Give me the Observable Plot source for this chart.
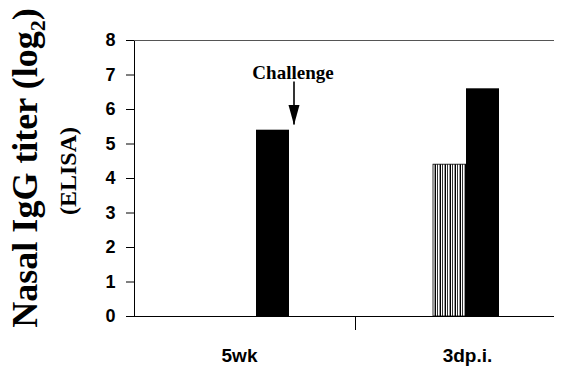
<!DOCTYPE html>
<html><head><meta charset="utf-8">
<script src="https://cdn.jsdelivr.net/npm/d3@7"></script>
<script src="https://cdn.jsdelivr.net/npm/@observablehq/plot@0.6"></script>
<style>
body{margin:0;background:#fff}
svg [aria-label="y-axis tick label"]{font-size:18px;font-weight:bold;font-family:"Liberation Sans",Arial,sans-serif}
</style>
</head><body><div id="chart"></div>
<script>
const periods = ["5wk", "3dp.i."];
const series = ["Group A", "Group B", "Group C"];
const valuesA = [0, 0];
const valuesB = [0, 4.4];
const valuesC = [5.4, 6.6];
const yTicks = [0, 1, 2, 3, 4, 5, 6, 7, 8];
const annotation = [{period: "5wk", series: "Group C", yText: 7.07, yFrom: 6.8, yTo: 5.55, label: "Challenge"}];

const data = [];
periods.forEach((p, i) => {
  data.push({period: p, series: series[0], value: valuesA[i]});
  data.push({period: p, series: series[1], value: valuesB[i]});
  data.push({period: p, series: series[2], value: valuesC[i]});
});

const arrowHead = {
  draw(context) {
    context.moveTo(-5.5, -20);
    context.lineTo(5.5, -20);
    context.lineTo(0, 0);
    context.closePath();
  }
};

const chart = Plot.plot({
  width: 564,
  height: 368,
  marginLeft: 134,
  marginRight: 10,
  marginTop: 40,
  marginBottom: 52,
  style: {fontFamily: "Liberation Sans, Arial, sans-serif", background: "#fff", color: "#000"},
  fx: {domain: periods, padding: 0, label: null},
  x: {domain: series, paddingInner: 0, paddingOuter: 1.68, axis: null},
  y: {domain: [0, 8], ticks: yTicks, tickSize: 8, tickPadding: 11, line: true, label: null},
  marks: [
    Plot.ruleY([8], {stroke: "#555", strokeWidth: 1}),
    Plot.barY(data.filter(d => d.series === "Group B" && d.value > 0), {fx: "period", x: "series", y: "value", fill: "url(#vstripes)", stroke: "#000", strokeWidth: 0.8}),
    Plot.barY(data.filter(d => d.series === "Group C" && d.value > 0), {fx: "period", x: "series", y: "value", fill: "#000"}),
    Plot.ruleY([0], {stroke: "#000", strokeWidth: 1}),
    Plot.axisFx({anchor: "bottom", ticks: ["5wk"], tickSize: 0, tickPadding: 32, fontSize: 19, fontWeight: "bold", label: null}),
    Plot.axisFx({anchor: "bottom", ticks: ["3dp.i."], tickSize: 0, tickPadding: 32, fontSize: 19, fontWeight: "bold", dx: 18, label: null}),
    Plot.axisFx({anchor: "bottom", ticks: ["5wk"], tickSize: 14, tickFormat: () => "", dx: 116, label: null}),
    Plot.ruleX(annotation, {fx: "period", x: "series", y1: "yFrom", y2: "yTo", dx: 21, stroke: "#000", strokeWidth: 1.6}),
    Plot.dot(annotation, {fx: "period", x: "series", y: "yTo", dx: 21, symbol: arrowHead, fill: "#000", stroke: "none"}),
    Plot.text(annotation, {fx: "period", x: "series", y: "yText", text: "label", dx: 20, fontFamily: "Liberation Serif, Times New Roman, serif", fontWeight: "bold", fontSize: 19})
  ]
});

const svg = d3.select(chart);
const defs = svg.insert("defs", ":first-child");
const pat = defs.append("pattern").attr("id", "vstripes").attr("patternUnits", "userSpaceOnUse").attr("width", 5).attr("height", 6);
["#000", "#fff", "#333", "#fff", "#999"].forEach((c, i) => {
  pat.append("rect").attr("x", i).attr("y", 0).attr("width", 1).attr("height", 6).attr("fill", c);
});

const t1 = svg.append("text")
  .attr("transform", "translate(37,168) rotate(-90)")
  .attr("text-anchor", "middle")
  .attr("font-family", "Liberation Serif, Times New Roman, serif")
  .attr("font-weight", "bold")
  .attr("font-size", 36)
  .attr("fill", "#000");
t1.append("tspan").text("Nasal IgG titer (log");
t1.append("tspan").attr("font-size", 22).attr("dy", 8).text("2");
t1.append("tspan").attr("dy", -8).text(")");

svg.append("text")
  .attr("transform", "translate(76,171) rotate(-90)")
  .attr("text-anchor", "middle")
  .attr("font-family", "Liberation Serif, Times New Roman, serif")
  .attr("font-weight", "bold")
  .attr("font-size", 24)
  .attr("fill", "#000")
  .text("(ELISA)");

document.getElementById("chart").appendChild(chart);
</script>
</body></html>
